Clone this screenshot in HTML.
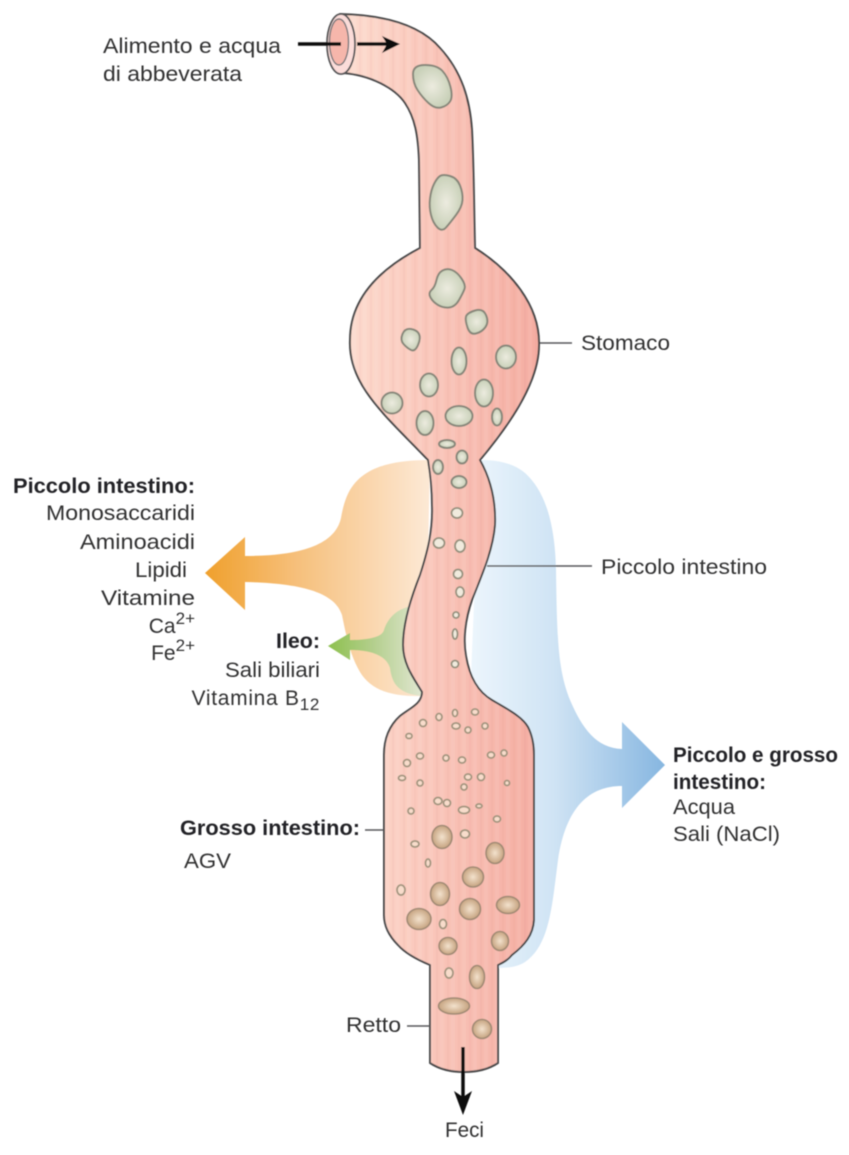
<!DOCTYPE html>
<html lang="it">
<head>
<meta charset="utf-8">
<title>Apparato digerente</title>
<style>
html,body{margin:0;padding:0;background:#fff;}
svg{display:block;}
text{font-family:"Liberation Sans",sans-serif;font-size:21px;fill:#303032;}
.b{font-weight:bold;fill:#232325;}
.sup{font-size:17px;}
.green{fill:url(#greenFood);stroke:#87877a;stroke-width:2;stroke-linejoin:round;}
.small{fill:#f0eadd;stroke:#96917e;stroke-width:1.8;}
.lg .small{fill:#f8dccb;stroke:#a3957f;}
.tan{fill:url(#tanFood);stroke:#a08a74;stroke-width:1.6;}
</style>
</head>
<body>
<svg xmlns="http://www.w3.org/2000/svg" width="849" height="1155" viewBox="0 0 849 1155">
<defs>
<linearGradient id="bodyGrad" gradientUnits="userSpaceOnUse" x1="345" y1="0" x2="540" y2="0">
<stop offset="0" stop-color="#fddccf"/><stop offset="0.5" stop-color="#f9c3b7"/><stop offset="1" stop-color="#f4aca1"/>
</linearGradient>
<linearGradient id="blueGrad" gradientUnits="userSpaceOnUse" x1="465" y1="0" x2="665" y2="0">
<stop offset="0" stop-color="#eef7fd"/><stop offset="0.45" stop-color="#cfe3f4"/><stop offset="1" stop-color="#86b6e0"/>
</linearGradient>
<linearGradient id="orangeGrad" gradientUnits="userSpaceOnUse" x1="205" y1="0" x2="430" y2="0">
<stop offset="0" stop-color="#f0a02c"/><stop offset="0.4" stop-color="#f6bf7a"/><stop offset="1" stop-color="#fde9d6"/>
</linearGradient>
<linearGradient id="greenGrad" gradientUnits="userSpaceOnUse" x1="328" y1="0" x2="420" y2="0">
<stop offset="0" stop-color="#8dc04e"/><stop offset="0.5" stop-color="#b4cf8e"/><stop offset="1" stop-color="#e0e6cf"/>
</linearGradient>
<radialGradient id="greenFood"><stop offset="0" stop-color="#ecebdf"/><stop offset="1" stop-color="#c9d1b9"/></radialGradient>
<radialGradient id="tanFood"><stop offset="0" stop-color="#f3e2cd"/><stop offset="1" stop-color="#c6a380"/></radialGradient>
<pattern id="stripes" patternUnits="userSpaceOnUse" width="11" height="10">
<rect x="0" y="0" width="4" height="10" fill="#ffffff" opacity="0.07"/>
<rect x="7" y="0" width="2" height="10" fill="#c0605a" opacity="0.05"/>
</pattern>
<filter id="soft" x="-5%" y="-5%" width="110%" height="110%"><feGaussianBlur stdDeviation="0.5"/></filter>
<path id="tractShape" d="M340 14 C385 15 420 25 440 48 C462 72 470 100 472 130 C474 170 474 210 475 248 C510 270 540 305 539 345 C539 385 505 430 480 460 C490 478 496 500 495 525 C493 550 482 575 472 600 C465 620 463 640 466 656 C470 680 480 693 492 700 C505 708 522 716 528 727 C532 735 534 745 534 755 L534 920 C533 935 525 945 512 955 C507 961 502 963 498 965 L498 1063 C480 1075 448 1075 430 1063 L430 965 C418 960 405 953 398 945 C388 935 384 925 384 915 L384 755 C384 738 390 725 400 716 C410 708 422 704 422 692 C415 680 403 665 403 645 C403 625 410 600 420 575 C428 550 433 530 432 505 C432 490 430 472 428 460 C385 415 348 385 350 340 C350 300 378 270 420 248 L419 160 C418 135 415 118 405 103 C395 88 370 75 343 73 Z"/>
</defs>
<rect width="849" height="1155" fill="#ffffff"/>
<g filter="url(#soft)">

<path fill="url(#blueGrad)" d="M480 460 C500 460 518 464 530 478 C546 496 555 525 556 570 C557 640 558 670 570 700 C582 728 596 748 622 749 L622 722 L665 765 L622 808 L622 786 C590 786 566 806 558 860 C552 905 550 945 525 962 C516 968 505 968 490 968 L470 700 Z"/>
<path fill="url(#orangeGrad)" d="M430 460 C405 460 385 463 370 471 C352 481 345 495 341 518 C335 545 300 556 245 556 L245 537 L205 573 L245 610 L245 582 C300 583 335 592 342 615 C346 635 350 655 360 672 C372 692 395 697 425 696 Z"/>
<path fill="url(#greenGrad)" d="M408 607 C395 610 387 620 384 630 C382 638 365 640 350 640 L350 633 L328 646 L350 660 L350 650 C370 650 386 655 390 668 C392 685 400 695 425 696 Z"/>

<use href="#tractShape" fill="url(#bodyGrad)" stroke="#48484a" stroke-width="2" stroke-linejoin="round"/>
<use href="#tractShape" fill="url(#stripes)"/>

<ellipse cx="341" cy="44" rx="14" ry="30" fill="#fbdcd9" stroke="#555557" stroke-width="1.8"/>
<ellipse cx="339" cy="42" rx="9.5" ry="23" fill="#f6b6ab" stroke="#77777a" stroke-width="1.4"/>

<g>
<path class="green" d="M413 74 Q413 65 425 65 Q437 65 442.5 71 Q448 77 450.5 87 Q453 97 450 101.5 Q447 106 441 107.5 Q435 109 428.5 103 Q422 97 417.5 90 Q413 83 413 74Z"/>
<path class="green" d="M440 176 Q443 174 450 176 Q457 178 460 185.5 Q463 193 462.5 200 Q462 207 456 215 Q450 223 446 227.5 Q442 232 437.5 227.5 Q433 223 431 215 Q429 207 430 198.5 Q431 190 434 184 Q437 178 440 176Z"/>
<path class="green" d="M442.5 270.5 Q447 268 452 270 Q457 272 461.5 278.5 Q466 285 464.5 289 Q463 293 459 300 Q455 307 449 307.5 Q443 308 438 305 Q433 302 430.5 297.5 Q428 293 431.5 290 Q435 287 436.5 280 Q438 273 442.5 270.5Z"/>
<path class="green" d="M475 310.5 Q483 308 486 315 Q489 322 485.5 327 Q482 332 476 333.5 Q470 335 467.5 327.5 Q465 320 466 316.5 Q467 313 475 310.5Z"/>
<path class="green" d="M411 329 Q417 330 419 334 Q421 338 418 345 Q415 352 411 350 Q407 348 403.5 344 Q400 340 402.5 334 Q405 328 411 329Z"/>
<ellipse class="green" cx="459" cy="361" rx="7.5" ry="13.5"/>
<ellipse class="green" cx="506" cy="357" rx="10" ry="11.5"/>
<ellipse class="green" cx="429" cy="385" rx="9" ry="11.5"/>
<ellipse class="green" cx="484" cy="393" rx="9" ry="13.5"/>
<ellipse class="green" cx="392" cy="403" rx="10.5" ry="10.5"/>
<ellipse class="green" cx="425" cy="423" rx="8.5" ry="12"/>
<ellipse class="green" cx="459" cy="416" rx="13.5" ry="10"/>
<ellipse class="green" cx="497" cy="417" rx="5" ry="8.5"/>
<ellipse class="green" cx="447" cy="444" rx="8" ry="4"/>
<ellipse class="green" cx="462" cy="457" rx="5.5" ry="6.5"/>
<ellipse class="green" cx="438" cy="467" rx="5" ry="7"/>
<ellipse class="green" cx="459" cy="482" rx="7.5" ry="6"/>
</g>

<g>
<ellipse class="small" cx="457" cy="513" rx="5.5" ry="5"/>
<ellipse class="small" cx="439" cy="543" rx="5.5" ry="5"/>
<ellipse class="small" cx="460" cy="546" rx="5" ry="6"/>
<ellipse class="small" cx="458" cy="574" rx="4.5" ry="4.5"/>
<ellipse class="small" cx="460" cy="592" rx="4" ry="5"/>
<ellipse class="small" cx="456" cy="615" rx="3" ry="3"/>
<ellipse class="small" cx="455" cy="634" rx="2.5" ry="5"/>
<ellipse class="small" cx="455" cy="664" rx="3.5" ry="3.5"/>
</g>

<g class="lg">
<ellipse class="small" cx="423" cy="723" rx="3.5" ry="3.5"/>
<ellipse class="small" cx="439" cy="717" rx="3" ry="3.5"/>
<ellipse class="small" cx="455" cy="713" rx="2.5" ry="3.5"/>
<ellipse class="small" cx="475" cy="712" rx="3.5" ry="3"/>
<ellipse class="small" cx="485" cy="726" rx="3" ry="3"/>
<ellipse class="small" cx="468" cy="730" rx="3" ry="3"/>
<ellipse class="small" cx="456" cy="726" rx="4" ry="3"/>
<ellipse class="small" cx="409" cy="736" rx="3" ry="2.5"/>
<ellipse class="small" cx="407" cy="763" rx="3.5" ry="3.5"/>
<ellipse class="small" cx="420" cy="756" rx="3.5" ry="3"/>
<ellipse class="small" cx="446" cy="758" rx="3" ry="3"/>
<ellipse class="small" cx="462" cy="760" rx="3.5" ry="3"/>
<ellipse class="small" cx="491" cy="755" rx="3.5" ry="3"/>
<ellipse class="small" cx="504" cy="753" rx="3" ry="3"/>
<ellipse class="small" cx="402" cy="778" rx="3.5" ry="2.5"/>
<ellipse class="small" cx="420" cy="783" rx="3" ry="3"/>
<ellipse class="small" cx="468" cy="777" rx="3.5" ry="3"/>
<ellipse class="small" cx="481" cy="777" rx="3.5" ry="3.5"/>
<ellipse class="small" cx="464" cy="787" rx="3" ry="3"/>
<ellipse class="small" cx="507" cy="783" rx="2.5" ry="2.5"/>
<ellipse class="small" cx="438" cy="801" rx="4" ry="3.5"/>
<ellipse class="small" cx="447" cy="803" rx="3.5" ry="3.5"/>
<ellipse class="small" cx="411" cy="811" rx="3" ry="3"/>
<ellipse class="small" cx="464" cy="810" rx="5.5" ry="3.5"/>
<ellipse class="small" cx="479" cy="806" rx="3" ry="2"/>
<ellipse class="small" cx="497" cy="819" rx="3.5" ry="3"/>
<ellipse class="small" cx="465" cy="834" rx="4.5" ry="4"/>
<ellipse class="small" cx="415" cy="844" rx="4" ry="3"/>
<ellipse class="small" cx="428" cy="863" rx="2.5" ry="4"/>
<ellipse class="small" cx="401" cy="890" rx="4" ry="5"/>
<ellipse class="small" cx="443" cy="924" rx="3.5" ry="4.5"/>
<ellipse class="small" cx="449" cy="973" rx="4" ry="5"/>
</g>

<g>
<ellipse class="tan" cx="442" cy="837" rx="10" ry="11.5"/>
<ellipse class="tan" cx="495" cy="853" rx="9" ry="10.5"/>
<ellipse class="tan" cx="473" cy="877" rx="10.5" ry="10"/>
<ellipse class="tan" cx="440" cy="894" rx="9.5" ry="11.5"/>
<ellipse class="tan" cx="419" cy="919" rx="12" ry="10.5"/>
<ellipse class="tan" cx="470" cy="909" rx="10.5" ry="10.5"/>
<ellipse class="tan" cx="508" cy="905" rx="11.5" ry="8.5"/>
<ellipse class="tan" cx="448" cy="946" rx="9" ry="8.5"/>
<ellipse class="tan" cx="500" cy="941" rx="8.5" ry="9.5"/>
<ellipse class="tan" cx="477" cy="977" rx="7.5" ry="11.5"/>
<ellipse class="tan" cx="454" cy="1006" rx="15.5" ry="8"/>
<ellipse class="tan" cx="482" cy="1029" rx="9.5" ry="9.5"/>
</g>

<line x1="298" y1="44" x2="341" y2="44" stroke="#111" stroke-width="3.5"/>
<line x1="357" y1="44" x2="388" y2="44" stroke="#111" stroke-width="3.5"/>
<polygon points="400,44 382,36 387,44 382,53" fill="#111"/>
<line x1="463" y1="1047" x2="463" y2="1102" stroke="#111" stroke-width="3.5"/>
<polygon points="463,1115 454,1091 463,1097 472,1091" fill="#111"/>

<g stroke="#58585a" stroke-width="1.6">
<line x1="540" y1="343" x2="572" y2="343"/>
<line x1="487" y1="566" x2="592" y2="566"/>
<line x1="365" y1="830" x2="384" y2="830"/>
<line x1="407" y1="1026" x2="430" y2="1026"/>
</g>

<g>
<text x="103" y="53" textLength="178" lengthAdjust="spacingAndGlyphs">Alimento e acqua</text>
<text x="103" y="81" textLength="139" lengthAdjust="spacingAndGlyphs">di abbeverata</text>
<text x="581" y="350" textLength="89" lengthAdjust="spacingAndGlyphs">Stomaco</text>
<text class="b" x="13" y="493" textLength="182" lengthAdjust="spacingAndGlyphs">Piccolo intestino:</text>
<text x="46" y="520" textLength="149" lengthAdjust="spacingAndGlyphs">Monosaccaridi</text>
<text x="80" y="549" textLength="115" lengthAdjust="spacingAndGlyphs">Aminoacidi</text>
<text x="135" y="577" textLength="52" lengthAdjust="spacingAndGlyphs">Lipidi</text>
<text x="101" y="605" textLength="94" lengthAdjust="spacingAndGlyphs">Vitamine</text>
<text x="195" y="633" text-anchor="end">Ca<tspan class="sup" dy="-9">2+</tspan></text>
<text x="195" y="660" text-anchor="end">Fe<tspan class="sup" dy="-9">2+</tspan></text>
<text class="b" x="276" y="648" textLength="44" lengthAdjust="spacingAndGlyphs">Ileo:</text>
<text x="225" y="677" textLength="95" lengthAdjust="spacingAndGlyphs">Sali biliari</text>
<text x="320" y="705" text-anchor="end" style="letter-spacing:0.7px">Vitamina B<tspan class="sup" dy="5">12</tspan></text>
<text x="601" y="574" textLength="166" lengthAdjust="spacingAndGlyphs">Piccolo intestino</text>
<text class="b" x="673" y="762" textLength="165" lengthAdjust="spacingAndGlyphs">Piccolo e grosso</text>
<text class="b" x="673" y="789" textLength="93" lengthAdjust="spacingAndGlyphs">intestino:</text>
<text x="673" y="814" textLength="62" lengthAdjust="spacingAndGlyphs">Acqua</text>
<text x="673" y="841" textLength="107" lengthAdjust="spacingAndGlyphs">Sali (NaCl)</text>
<text class="b" x="180" y="835" textLength="180" lengthAdjust="spacingAndGlyphs">Grosso intestino:</text>
<text x="184" y="868" textLength="47" lengthAdjust="spacingAndGlyphs">AGV</text>
<text x="346" y="1032" textLength="55" lengthAdjust="spacingAndGlyphs">Retto</text>
<text x="445" y="1137" textLength="39" lengthAdjust="spacingAndGlyphs">Feci</text>
</g>
</g>
</svg>
</body>
</html>
